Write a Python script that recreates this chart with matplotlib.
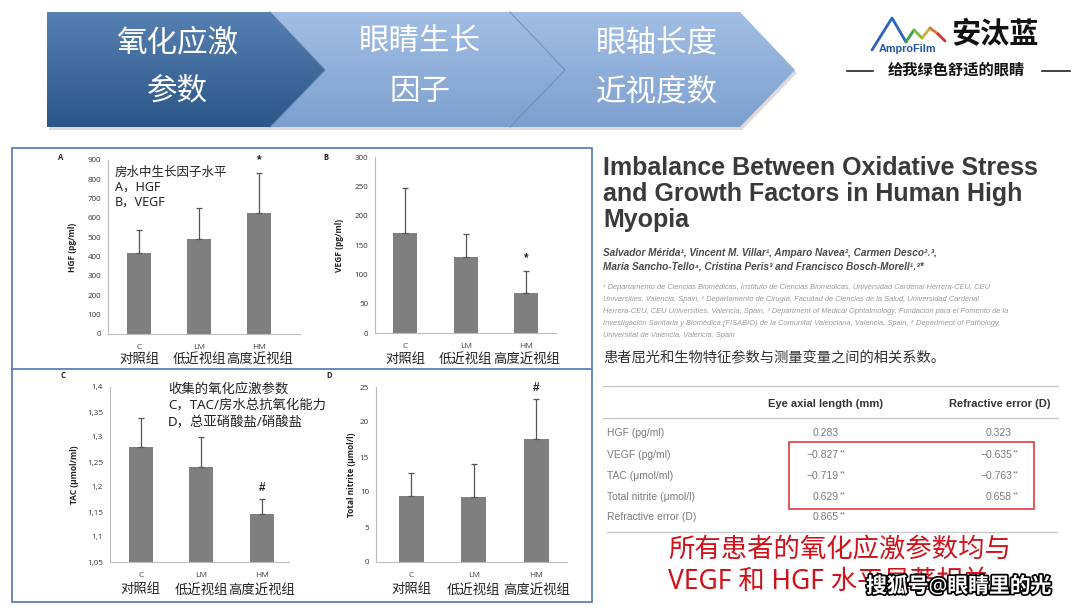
import numpy as np
import matplotlib
matplotlib.use('Agg')
import matplotlib.pyplot as plt
from matplotlib.patches import Polygon, Rectangle
from matplotlib.ticker import FuncFormatter
import matplotlib.patheffects as pe

plt.rcParams['font.family'] = ['Noto Sans', 'Noto Sans CJK SC', 'DejaVu Sans']
LAT = ['Liberation Sans', 'DejaVu Sans']
XL = ['Open Sans', 'DejaVu Sans']

# ---- data ----
groups = ['C', 'LM', 'HM']
groups_cn = ['对照组', '低近视组', '高度近视组']

hgf_mean = [419, 491, 627]
hgf_err = [119, 162, 204]
hgf_mark = ['', '', '*']

vegf_mean = [170, 130, 68]
vegf_err = [78, 38, 38]
vegf_mark = ['', '', '*']

tac_mean = [1.280, 1.240, 1.146]
tac_err = [0.058, 0.060, 0.030]
tac_mark = ['', '', '#']

nitrite_mean = [9.5, 9.3, 17.6]
nitrite_err = [3.2, 4.7, 5.7]
nitrite_mark = ['', '', '#']

steps = [('氧化应激', '参数'), ('眼睛生长', '因子'), ('眼轴长度', '近视度数')]

title_lines = ['Imbalance Between Oxidative Stress',
               'and Growth Factors in Human High',
               'Myopia']
authors = ['Salvador Mérida¹, Vincent M. Villar¹, Amparo Navea², Carmen Desco²˒³,',
           'María Sancho-Tello⁴, Cristina Peris³ and Francisco Bosch-Morell¹˒³*']
affil = ['¹ Departamento de Ciencias Biomédicas, Instituto de Ciencias Biomédicas, Universidad Cardenal Herrera-CEU, CEU',
         'Universities, Valencia, Spain, ² Departamento de Cirugía, Facultad de Ciencias de la Salud, Universidad Cardenal',
         'Herrera-CEU, CEU Universities, Valencia, Spain, ³ Department of Medical Ophtalmology, Fundación para el Fomento de la',
         'Investigación Sanitaria y Biomédica (FISABIO) de la Comunitat Valenciana, Valencia, Spain, ⁴ Department of Pathology,',
         'Universitat de València, Valencia, Spain']
caption = '患者屈光和生物特征参数与测量变量之间的相关系数。'

tbl_cols = ['Eye axial length (mm)', 'Refractive error (D)']
tbl_rows = ['HGF (pg/ml)', 'VEGF (pg/ml)', 'TAC (\u03bcmol/ml)', 'Total nitrite (\u03bcmol/l)', 'Refractive error (D)']
r_axial = [0.283, -0.827, -0.719, 0.629, 0.865]
r_refr = [0.323, -0.635, -0.763, 0.658, None]
sig_axial = [False, True, True, True, True]
sig_refr = [False, True, True, True, False]

conclusion = ['所有患者的氧化应激参数均与', 'VEGF 和 HGF 水平显著相关']

# ---- figure ----
W, H = 1080, 608
fig = plt.figure(figsize=(W / 100, H / 100), dpi=100)


def box(x0, y0, x1, y1):
    return [x0 / W, 1 - y1 / H, (x1 - x0) / W, (y1 - y0) / H]


def ftxt(x, y, s, **kw):
    return fig.text(x / W, 1 - y / H, s, **kw)


bg = fig.add_axes([0, 0, 1, 1])
bg.set_xlim(0, W)
bg.set_ylim(H, 0)
bg.axis('off')

# banner chevrons
y0, y1, ym, tip = 12, 127, 70, 55
tops = [270, 510, 740]
fills = [('#5780b2', '#2b5688'), ('#a2bee4', '#7d9fcf'), ('#a2bee4', '#7d9fcf')]
for i in range(3):
    if i == 0:
        left = [(47, y1), (47, y0)]
    else:
        p = tops[i - 1]
        left = [(p, y1), (p + tip, ym), (p, y0)]
    right = [(tops[i], y0), (tops[i] + tip, ym), (tops[i], y1)]
    pts = left + right
    sh = Polygon([(x + 2, y + 3) for x, y in pts], closed=True, fc='#b8b8b8', ec='none', alpha=0.5, zorder=1)
    bg.add_patch(sh)
    poly = Polygon(pts, closed=True, fc='none', ec='none', zorder=2)
    bg.add_patch(poly)
    c0 = np.array(matplotlib.colors.to_rgb(fills[i][0]))
    c1 = np.array(matplotlib.colors.to_rgb(fills[i][1]))
    t = np.linspace(0, 1, 120).reshape(-1, 1, 1)
    grad = c0 * (1 - t) + c1 * t
    im = bg.imshow(grad, extent=(40, 810, y1, y0), aspect='auto', origin='upper', zorder=2)
    im.set_clip_path(poly)
    if i > 0:
        p = tops[i - 1]
        bg.plot([p, p + tip, p], [y0, ym, y1], color='#5d7fb0' if i == 2 else '#4a6f9f',
                lw=0.8, alpha=0.7, zorder=3)
bg.set_xlim(0, W)
bg.set_ylim(H, 0)

for (l1, l2), cx in zip(steps, [177, 420, 657]):
    ftxt(cx, 43, l1, color='white', fontsize=22, ha='center', va='center')
    ftxt(cx, 92, l2, color='white', fontsize=22, ha='center', va='center')

# logo
bg.plot([872, 892, 906], [50, 18, 42], color='#2a63c0', lw=2, solid_capstyle='round', zorder=3)
wave_x = [906, 914, 922, 930, 938, 945]
wave_y = [42, 30, 38, 28, 34, 41]
wave_c = ['#3aa04a', '#7bb83a', '#c9b030', '#e07030', '#d83030']
for k in range(len(wave_x) - 1):
    bg.plot(wave_x[k:k + 2], wave_y[k:k + 2], color=wave_c[k], lw=2, solid_capstyle='round', zorder=3)
ftxt(879, 49, 'AmproFilm', family=LAT, fontsize=7.8, fontweight='bold', color='#2255a4', va='center')
ftxt(995, 36, '安汰蓝', fontsize=21, fontweight='bold', color='#111111', ha='center', va='center')
ftxt(956, 71, '给我绿色舒适的眼睛', fontsize=11, fontweight='bold', color='#111111', ha='center', va='center')
bg.plot([847, 873], [71, 71], color='#222222', lw=1.2)
bg.plot([1042, 1070], [71, 71], color='#222222', lw=1.2)

# chart frame
bg.add_patch(Rectangle((12, 148), 580, 454, fc='none', ec='#5b80b8', lw=1.3, zorder=1))
bg.plot([12, 592], [369, 369], color='#5b80b8', lw=1.3, zorder=1)

# ---- bar panels ----
panels = [
    dict(px=(108, 160, 300, 334), xlim=(-0.52, 2.68), ylim=(0, 900), step=100,
         mean=hgf_mean, err=hgf_err, mark=hgf_mark, ylabel='HGF (pg/ml)', letter='A',
         lpos=(61, 157), ylx=77, comma=False, cn_off=25),
    dict(px=(375, 157, 556, 333), xlim=(-0.5, 2.49), ylim=(0, 300), step=50,
         mean=vegf_mean, err=vegf_err, mark=vegf_mark, ylabel='VEGF (pg/ml)', letter='B',
         lpos=(326, 157), ylx=344, comma=False, cn_off=26),
    dict(px=(110, 387, 289, 562), xlim=(-0.51, 2.45), ylim=(1.05, 1.4), step=0.05,
         mean=tac_mean, err=tac_err, mark=tac_mark, ylabel='TAC (\u03bcmol/ml)', letter='C',
         lpos=(63, 376), ylx=79, comma=True, cn_off=28),
    dict(px=(376, 387, 567, 562), xlim=(-0.56, 2.49), ylim=(0, 25), step=5,
         mean=nitrite_mean, err=nitrite_err, mark=nitrite_mark, ylabel='Total nitrite (\u03bcmol/l)',
         letter='D', lpos=(329, 376), ylx=356, comma=False, cn_off=28),
]

for p in panels:
    x0, yt, x1, yb = p['px']
    ax = fig.add_axes(box(x0, yt, x1, yb))
    ax.patch.set_alpha(0)
    xs = np.arange(len(groups))
    ax.bar(xs, p['mean'], width=0.4, color='#7f7f7f', zorder=2)
    ax.errorbar(xs, p['mean'], yerr=[np.zeros(len(xs)), p['err']], fmt='none',
                ecolor='#555555', elinewidth=0.9, capsize=2, capthick=0.9, zorder=3)
    ax.set_xlim(*p['xlim'])
    ax.set_ylim(*p['ylim'])
    lo, hi = p['ylim']
    ax.set_yticks(np.round(np.arange(lo, hi + p['step'] / 2, p['step']), 3))
    if p['comma']:
        ax.yaxis.set_major_formatter(FuncFormatter(lambda v, _: f"{round(v, 2):g}".replace('.', ',')))
    ax.set_xticks(xs)
    ax.set_xticklabels(groups, family=XL, fontsize=6, color='#444444')
    for lab in ax.get_yticklabels():
        lab.set_family(XL)
    ax.tick_params(axis='y', length=0, pad=5, labelsize=5.8, labelcolor='#333333')
    ax.tick_params(axis='x', length=0, pad=7.5, labelsize=6)
    for s in ['top', 'right']:
        ax.spines[s].set_visible(False)
    for s in ['left', 'bottom']:
        ax.spines[s].set_color('#bdbdbd')
        ax.spines[s].set_linewidth(0.8)
    ax.set_ylabel(p['ylabel'], family=XL, fontsize=6, fontweight='bold', color='#222222')
    ax.yaxis.set_label_coords((p['ylx'] - x0) / (x1 - x0), 0.5)
    for i, g in enumerate(groups_cn):
        ax.annotate(g, xy=(i, 0), xycoords=('data', 'axes fraction'), xytext=(0, -p['cn_off']),
                    textcoords='offset pixels', ha='center', va='center', fontsize=9.6, color='#222222')
    for i, m in enumerate(p['mark']):
        if m:
            ax.annotate(m, xy=(i, p['mean'][i] + p['err'][i]), xytext=(0, 13 if m == '*' else 11),
                        textcoords='offset pixels', ha='center', va='center',
                        family=LAT, fontsize=8.5, fontweight='bold', color='#222222')
    ftxt(p['lpos'][0], p['lpos'][1], p['letter'], family=XL, fontsize=5.5, fontweight='bold',
         color='#222222', ha='center', va='center')

for k, s in enumerate(['房水中生长因子水平', 'A，HGF', 'B，VEGF']):
    ftxt(115, 172 + 15 * k, s, fontsize=9, color='#222222', va='center')
for k, s in enumerate(['收集的氧化应激参数', 'C，TAC/房水总抗氧化能力', 'D，总亚硝酸盐/硝酸盐']):
    ftxt(168, 390 + 16.3 * k, s, fontsize=9.6, color='#222222', va='center')

# ---- right side text ----
for k, s in enumerate(title_lines):
    ftxt(603, 168 + 26 * k, s, family=LAT, fontsize=18, fontweight='bold', color='#3a3a3a', va='center')
for k, s in enumerate(authors):
    ftxt(603, 253 + 13.5 * k, s, family=LAT, fontsize=7.2, fontweight='bold', style='italic',
         color='#4a4a4a', va='center')
for k, s in enumerate(affil):
    ftxt(603, 288 + 11.8 * k, s, family=LAT, fontsize=5.4, style='italic', color='#9a9a9a', va='center')
ftxt(603, 359, caption, fontsize=10.3, color='#333333', va='center')

# table
for yy in [386, 418]:
    bg.plot([603, 1058], [yy, yy], color='#c8c8c8', lw=1)
bg.plot([607, 1057], [531.5, 531.5], color='#c8c8c8', lw=1)
ftxt(826, 404, tbl_cols[0], family=LAT, fontsize=8, fontweight='bold', color='#333333', ha='center', va='center')
ftxt(1000, 404, tbl_cols[1], family=LAT, fontsize=8, fontweight='bold', color='#333333', ha='center', va='center')
row_y = [433, 455, 476, 497, 517]
for yy, name, a, sa, r, sr in zip(row_y, tbl_rows, r_axial, sig_axial, r_refr, sig_refr):
    ftxt(607, yy, name, family=LAT, fontsize=7.5, color='#7a7a7a', va='center')
    for val, sig, xr in [(a, sa, 839), (r, sr, 1012)]:
        if val is None:
            continue
        ftxt(xr, yy, f"{val:.3f}".replace('-', '\u2212'), family=LAT, fontsize=7.5, color='#7a7a7a',
             ha='right', va='center')
        if sig:
            ftxt(xr + 1, yy - 2, '**', family=LAT, fontsize=5.5, color='#7a7a7a', ha='left', va='center')
bg.add_patch(Rectangle((789, 442), 245, 67, fc='none', ec='#e23b3b', lw=1.2, zorder=4))

for k, s in enumerate(conclusion):
    ftxt(668, 550 + 32 * k, s, fontsize=19, color='#d0121b', va='center')
ftxt(959, 587, '搜狐号@眼睛里的光', fontsize=15, fontweight='bold', color='white', ha='center', va='center',
     path_effects=[pe.withStroke(linewidth=2.5, foreground='black')])

fig.savefig('out.png', dpi=100)
